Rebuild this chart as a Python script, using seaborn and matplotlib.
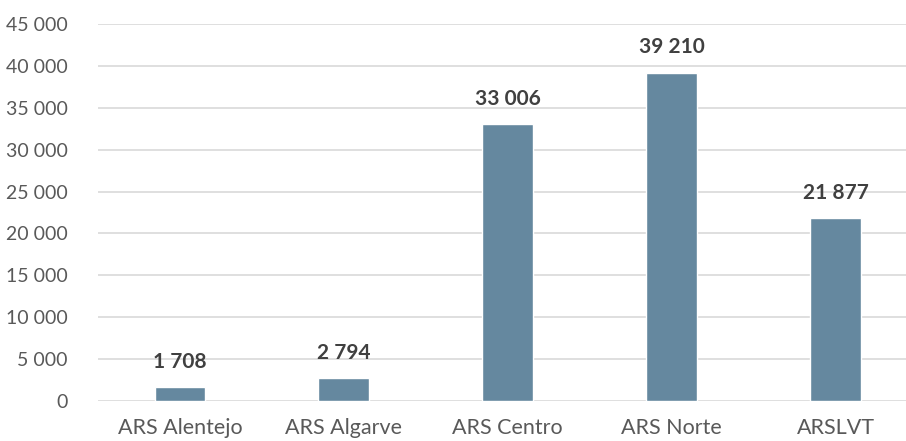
import matplotlib
matplotlib.use("Agg")
import matplotlib.pyplot as plt
import seaborn as sns
import pandas as pd
from matplotlib.ticker import FuncFormatter

regioes = ["ARS Alentejo", "ARS Algarve", "ARS Centro", "ARS Norte", "ARSLVT"]
valores = [1708, 2794, 33006, 39210, 21877]

sns.set_theme(style="white")
plt.rcParams["font.family"] = ["Lato", "DejaVu Sans"]

df = pd.DataFrame({"regiao": regioes, "valor": valores})

fig = plt.figure(figsize=(9.06, 4.41), dpi=100)
ax = fig.add_axes([98 / 906, 1 - 401 / 441, 808 / 906, 377 / 441])

sns.barplot(data=df, x="regiao", y="valor", color="#65889f", width=0.31,
            saturation=1, ax=ax, zorder=3)

fmt = lambda v: f"{int(v):,}".replace(",", " ")
for i, v in enumerate(valores):
    ax.text(i, v + 1800, fmt(v), ha="center", va="bottom", fontsize=15,
            fontweight="bold", color="#404040")

ax.set_ylim(0, 45000)
ax.set_xlim(-0.5, 4.43)
ax.set_yticks(range(0, 45001, 5000))
ax.yaxis.set_major_formatter(FuncFormatter(lambda v, p: fmt(v)))
ax.grid(axis="y", color="#d9d9d9", lw=1.2, zorder=0)
for s in ax.spines.values():
    s.set_visible(False)
ax.set_xlabel("")
ax.set_ylabel("")
ax.tick_params(axis="both", length=0, labelcolor="#595959")
ax.tick_params(axis="y", pad=22, labelsize=14)
ax.tick_params(axis="x", pad=12, labelsize=15.5)

fig.savefig("out.png", dpi=100)
